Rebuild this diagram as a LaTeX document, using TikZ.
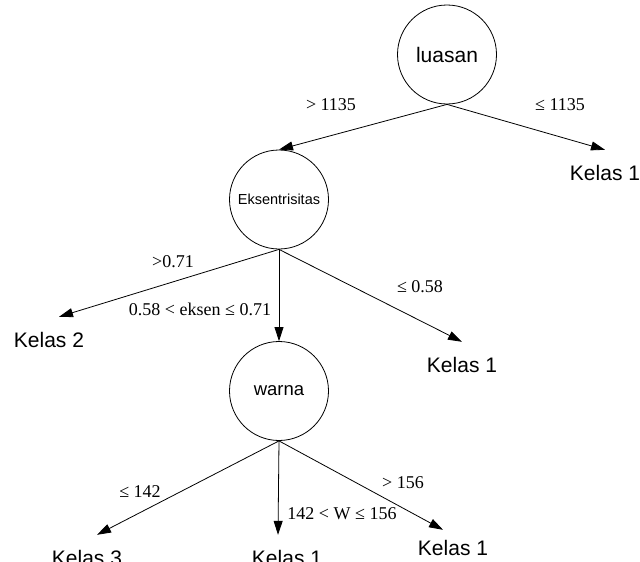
\documentclass[tikz,border=0pt]{standalone}
\usepackage{fontspec}
\setmainfont{Liberation Serif}
\setsansfont{Liberation Sans}
\usetikzlibrary{arrows.meta}

\begin{document}
\begin{tikzpicture}[x=1pt, y=-1pt]
  \tikzset{
    cnode/.style={circle, draw=black, line width=0.8pt, minimum size=99pt,
                  inner sep=0pt, font=\sffamily\fontsize{21}{25}\selectfont},
    leaf/.style={inner sep=0pt, minimum height=46pt,
                 font=\sffamily\fontsize{21}{25}\selectfont},
    elabel/.style={inner sep=0pt, font=\fontsize{18}{22}\selectfont},
    arr/.style={-{Triangle[length=14pt, width=9pt]}, line width=0.8pt}
  }
  \useasboundingbox (0,0) rectangle (640,562);
  % Decision nodes
  \node[cnode] (luas) at (447,54.5) {luasan};
  \node[cnode, font=\sffamily\fontsize{14.5}{17}\selectfont] (eks) at (279,199.5) {Eksentrisitas};
  \node[cnode, font=\sffamily\fontsize{18.5}{22}\selectfont] (warna) at (279,391) {warna};
  % Leaves
  \node[leaf] (k1a) at (605,173) {Kelas 1};
  \node[leaf] (k2)  at (49,340)  {Kelas 2};
  \node[leaf] (k1b) at (462,365) {Kelas 1};
  \node[leaf] (k3)  at (87,558)  {Kelas 3};
  \node[leaf] (k1c) at (287,558) {Kelas 1};
  \node[leaf] (k1d) at (453,548) {Kelas 1};
  % Branch conditions
  \node[elabel] (c1) at (331,105) {> 1135};
  \node[elabel] (c2) at (560,105) {≤ 1135};
  \node[elabel] (c3) at (173,262) {>0.71};
  \node[elabel] (c4) at (200,309) {0.58 < eksen ≤ 0.71};
  \node[elabel] (c5) at (420,287) {≤ 0.58};
  \node[elabel] (c6) at (140,492) {≤ 142};
  \node[elabel] (c7) at (342,514) {142 < W ≤ 156};
  \node[elabel] (c8) at (403,483) {> 156};
  % Edges
  \draw[arr] (luas.south) -- (eks.north);
  \draw[arr] (luas.south) -- (k1a.north);
  \draw[arr] (eks.south) -- ([xshift=10pt]k2.north);
  \draw[arr] (eks.south) -- (warna.north);
  \draw[arr] (eks.south) -- (k1b.north);
  \draw[arr] (warna.south) -- ([xshift=10pt]k3.north);
  \draw[arr] (warna.south) -- ([xshift=-9pt]k1c.north);
  \draw[arr] (warna.south) -- ([shift={(-10,5)}]k1d.north);
\end{tikzpicture}
\end{document}
